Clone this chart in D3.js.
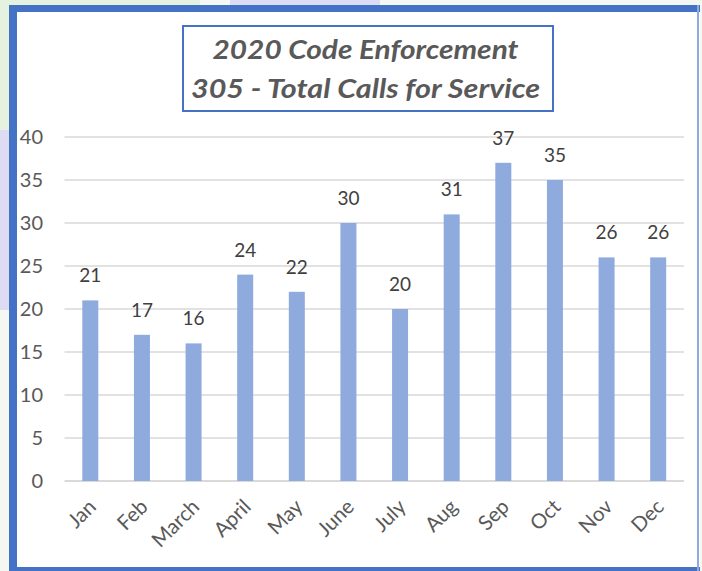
<!DOCTYPE html>
<html>
<head>
<meta charset="utf-8">
<script src="https://cdn.jsdelivr.net/npm/d3@7"></script>
<style>
  html, body { margin: 0; padding: 0; background: #fff; }
  svg { display: block; font-family: Lato, "Open Sans", sans-serif; }
</style>
</head>
<body>
<div id="chart"></div>
<script>
// chart data
const months = ["Jan", "Feb", "March", "April", "May", "June", "July", "Aug", "Sep", "Oct", "Nov", "Dec"];
const calls = [21, 17, 16, 24, 22, 30, 20, 31, 37, 35, 26, 26];
const yTicks = [0, 5, 10, 15, 20, 25, 30, 35, 40];
const titleLines = ["2020 Code Enforcement", "305 - Total Calls for Service"];

const width = 702;
const height = 571;

let svg = d3.select("#chart")
    .append("svg")
    .attr("width", width)
    .attr("height", height);

// faint backdrop behind the panel
svg.append("rect").attr("x", 0).attr("y", 0).attr("width", 702).attr("height", 571).attr("fill", "#f4f7f2");
svg.append("rect").attr("x", 0).attr("y", 0).attr("width", 200).attr("height", 130).attr("fill", "#e6f2e0");
svg.append("rect").attr("x", 230).attr("y", 0).attr("width", 150).attr("height", 6).attr("fill", "#dcdcf5");
svg.append("rect").attr("x", 0).attr("y", 130).attr("width", 9).attr("height", 180).attr("fill", "#dedcf3");

// panel
svg.append("rect")
    .attr("x", 9).attr("y", 5)
    .attr("width", 691).attr("height", 566)
    .attr("fill", "#ffffff");
svg.append("rect").attr("x", 9).attr("y", 5).attr("width", 691).attr("height", 7).attr("fill", "#4472c4");
svg.append("rect").attr("x", 9).attr("y", 5).attr("width", 8).attr("height", 566).attr("fill", "#4472c4");
svg.append("rect").attr("x", 9).attr("y", 567).attr("width", 691).attr("height", 4).attr("fill", "#4472c4");
svg.append("rect").attr("x", 697).attr("y", 5).attr("width", 2).attr("height", 566).attr("fill", "#8faadc");

// title box
svg.append("rect")
    .attr("x", 183).attr("y", 26)
    .attr("width", 370).attr("height", 85)
    .attr("fill", "#ffffff")
    .attr("stroke", "#4472c4")
    .attr("stroke-width", 2);

const titleWidths = [306, 349];

svg.selectAll(".title")
    .data(titleLines)
    .join("text")
    .attr("class", "title")
    .attr("x", (d, i) => 365.5 - titleWidths[i] / 2)
    .attr("y", (d, i) => 59 + i * 39)
    .attr("textLength", (d, i) => titleWidths[i])
    .attr("lengthAdjust", "spacingAndGlyphs")
    .attr("font-size", 27)
    .attr("font-weight", "bold")
    .attr("font-style", "italic")
    .attr("fill", "#595959")
    .text(d => d);

// scales
const x = d3.scaleBand()
    .domain(months)
    .range([64.5, 684])
    .padding(0);

const y = d3.scaleLinear()
    .domain([0, 40])
    .range([481, 137]);

const barWidth = 16;

// gridlines
svg.selectAll(".grid")
    .data(yTicks)
    .join("line")
    .attr("class", "grid")
    .attr("x1", 64.5)
    .attr("x2", 684)
    .attr("y1", d => y(d))
    .attr("y2", d => y(d))
    .attr("stroke", "#d9d9d9")
    .attr("stroke-width", d => d === 0 ? 2 : 1.3);

// y labels
svg.selectAll(".ylab")
    .data(yTicks)
    .join("text")
    .attr("class", "ylab")
    .attr("x", 43)
    .attr("y", d => y(d))
    .attr("dy", "0.35em")
    .attr("text-anchor", "end")
    .attr("font-size", 20)
    .attr("fill", "#595959")
    .text(d => d);

// bars
svg.selectAll(".bar")
    .data(calls)
    .join("rect")
    .attr("class", "bar")
    .attr("x", (d, i) => x(months[i]) + x.bandwidth() / 2 - barWidth / 2)
    .attr("y", d => y(d))
    .attr("width", barWidth)
    .attr("height", d => y(0) - y(d))
    .attr("fill", "#8faadc");

// value labels
svg.selectAll(".val")
    .data(calls)
    .join("text")
    .attr("class", "val")
    .attr("x", (d, i) => x(months[i]) + x.bandwidth() / 2)
    .attr("y", d => y(d) - 18)
    .attr("text-anchor", "middle")
    .attr("font-size", 19)
    .attr("fill", "#404040")
    .text(d => d);

// x labels
svg.selectAll(".xlab")
    .data(months)
    .join("text")
    .attr("class", "xlab")
    .attr("transform", d => `translate(${x(d) + x.bandwidth() / 2 + 2},${503}) rotate(-45)`)
    .attr("text-anchor", "end")
    .attr("dy", "0.35em")
    .attr("font-size", 20.5)
    .attr("fill", "#595959")
    .text(d => d);
</script>
</body>
</html>
